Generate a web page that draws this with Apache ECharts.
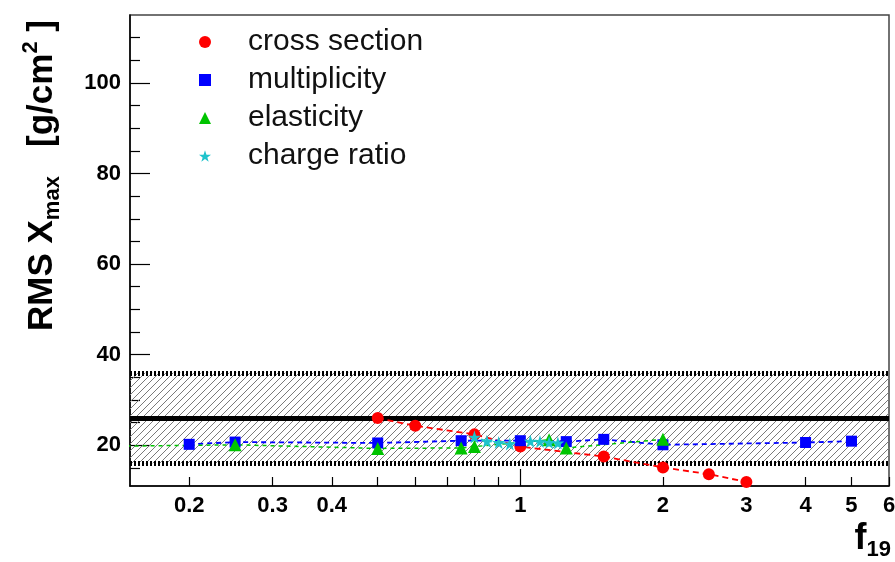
<!DOCTYPE html>
<html>
<head>
<meta charset="utf-8">
<script src="https://cdn.jsdelivr.net/npm/echarts@6/dist/echarts.min.js"></script>
<style>
html, body { margin: 0; padding: 0; background: #fff; }
#rms_chart { width: 895px; height: 562px; }
</style>
</head>
<body>
<div id="rms_chart"></div>
<script>
// f19 and RMS Xmax [g/cm^2]
var crossF = [0.5, 0.6, 0.8, 1, 1.5, 2, 2.5, 3]
var crossRms = [26, 24.3, 22.4, 19.7, 17.5, 15.1, 13.6, 11.9]
var multF = [0.2, 0.25, 0.5, 0.75, 1, 1.25, 1.5, 2, 4, 5]
var multRms = [20.2, 20.7, 20.5, 21.0, 21.0, 20.8, 21.3, 20.1, 20.6, 20.9]
var elastF = [0.1, 0.25, 0.5, 0.75, 0.8, 1.15, 1.25, 2]
var elastRms = [19.6, 20.1, 19.3, 19.4, 19.7, 21.2, 19.4, 21.3]
var chargeF = [0.8, 0.85, 0.9, 0.95, 1.05, 1.1, 1.15, 1.2]
var chargeRms = [21.8, 20.9, 20.6, 20.3, 20.9, 20.8, 20.6, 20.5]

// reference value and its band
var bandMid = 26
var bandLow = 16
var bandHigh = 36

// tick positions
var xLabelTicks = [0.2, 0.3, 0.4, 1, 2, 3, 4, 5, 6]
var xSmallTicks = [0.2, 0.3, 0.4, 0.5, 0.6, 0.7, 0.8, 0.9, 2, 3, 4, 5, 6]
var xBigTicks = [1]
var yMajorTicks = [20, 40, 60, 80, 100]
var yMinorTicks = [15, 25, 30, 35, 45, 50, 55, 65, 70, 75, 85, 90, 95, 105, 110]

var FONT = '"Liberation Sans", Arial, Helvetica, sans-serif'
var STAR = 'path://M50,0 L61.8,35.1 L98.1,35.1 L68.7,56.7 L79.4,90.5 L50,69.5 L20.6,90.5 L31.3,56.7 L1.9,35.1 L38.2,35.1 Z'

function pairs (xs, ys) {
  return xs.map(function (x, i) { return [x, ys[i]] })
}

// diagonal hatch for the band
function hatchPattern () {
  var c = document.createElement('canvas')
  c.width = 7
  c.height = 7
  var ctx = c.getContext('2d')
  ctx.strokeStyle = '#7a7a7a'
  ctx.lineWidth = 1
  ctx.beginPath()
  ctx.moveTo(0, 7); ctx.lineTo(7, 0)
  ctx.moveTo(-2, 2); ctx.lineTo(2, -2)
  ctx.moveTo(5, 9); ctx.lineTo(9, 5)
  ctx.stroke()
  return c
}

function dataSeries (name, xs, ys, color, symbol, size, dash, width) {
  return {
    name: name,
    type: 'line',
    data: pairs(xs, ys),
    symbol: symbol,
    symbolSize: size,
    showSymbol: true,
    itemStyle: { color: color },
    lineStyle: { color: color, type: dash, width: width },
    z: 3
  }
}

var chart = echarts.init(document.getElementById('rms_chart'))

var crossSeries = dataSeries('cross section', crossF, crossRms, '#ff0000', 'circle', 12, [6, 4], 1.8)
crossSeries.markArea = {
  silent: true,
  z: 1,
  itemStyle: { color: { image: hatchPattern(), repeat: 'repeat' } },
  data: [[{ yAxis: bandLow }, { yAxis: bandHigh }]]
}
crossSeries.markLine = {
  silent: true,
  z: 2,
  symbol: 'none',
  label: { show: false },
  data: [
    { yAxis: bandMid, lineStyle: { color: '#000', width: 5, type: 'solid' } },
    { yAxis: bandHigh, lineStyle: { color: '#000', width: 5, type: [2, 2] } },
    { yAxis: bandLow, lineStyle: { color: '#000', width: 5, type: [2, 2] } }
  ]
}

var option = {
  animation: false,
  // x axis title, bottom right under the labels
  title: {
    text: 'f{sub|19}',
    right: 4,
    top: 517,
    padding: 0,
    textStyle: {
      fontFamily: FONT,
      fontSize: 36,
      fontWeight: 'bold',
      color: '#000',
      lineHeight: 44,
      rich: {
        sub: { fontFamily: FONT, fontSize: 22, fontWeight: 'bold', color: '#000', lineHeight: 20, verticalAlign: 'bottom' }
      }
    }
  },
  grid: {
    left: 130,
    right: 6,
    top: 15,
    bottom: 76,
    show: true,
    borderColor: '#444',
    borderWidth: 1.5,
    outerBoundsMode: 'none'
  },
  legend: {
    orient: 'vertical',
    left: 199,
    top: 27,
    padding: 0,
    itemWidth: 12,
    itemHeight: 12,
    itemGap: 8,
    textStyle: {
      fontFamily: FONT,
      fontSize: 30,
      color: '#111',
      lineHeight: 30,
      padding: [0, 0, 0, 32]
    },
    data: [
      { name: 'cross section', icon: 'circle' },
      { name: 'multiplicity', icon: 'rect' },
      { name: 'elasticity', icon: 'triangle' },
      { name: 'charge ratio', icon: STAR }
    ]
  },
  xAxis: [
    {
      type: 'log',
      logBase: 10,
      min: 0.15,
      max: 6,
      position: 'bottom',
      axisLine: { lineStyle: { color: '#000', width: 1.5 } },
      axisTick: {
        inside: true,
        length: 9,
        customValues: xSmallTicks,
        lineStyle: { color: '#000', width: 1.2 }
      },
      axisLabel: {
        customValues: xLabelTicks,
        margin: 9,
        fontFamily: FONT,
        fontSize: 22,
        fontWeight: 'bold',
        color: '#000'
      },
      splitLine: { show: false }
    },
    {
      type: 'log',
      logBase: 10,
      min: 0.15,
      max: 6,
      position: 'bottom',
      axisLine: { show: false },
      axisTick: {
        inside: true,
        length: 17,
        customValues: xBigTicks,
        lineStyle: { color: '#000', width: 1.2 }
      },
      axisLabel: { show: false },
      splitLine: { show: false }
    }
  ],
  yAxis: [
    {
      type: 'value',
      min: 11,
      max: 115,
      position: 'left',
      axisLine: { lineStyle: { color: '#000', width: 1.5 } },
      axisTick: {
        inside: true,
        length: 20,
        customValues: yMajorTicks,
        lineStyle: { color: '#000', width: 1.2 }
      },
      axisLabel: {
        customValues: yMajorTicks,
        margin: 9,
        fontFamily: FONT,
        fontSize: 22,
        fontWeight: 'bold',
        color: '#000'
      },
      splitLine: { show: false },
      name: 'RMS X{sub|max}   [g/cm{sup|2} ]',
      nameLocation: 'middle',
      nameGap: 66,
      nameTextStyle: {
        fontFamily: FONT,
        fontSize: 35,
        fontWeight: 'bold',
        color: '#000',
        lineHeight: 44,
        padding: [0, 0, 0, 150],
        rich: {
          sub: { fontFamily: FONT, fontSize: 22, fontWeight: 'bold', lineHeight: 18, verticalAlign: 'bottom' },
          sup: { fontFamily: FONT, fontSize: 22, fontWeight: 'bold', lineHeight: 20, verticalAlign: 'top' }
        }
      }
    },
    {
      type: 'value',
      min: 11,
      max: 115,
      position: 'left',
      axisLine: { show: false },
      axisTick: {
        inside: true,
        length: 10,
        customValues: yMinorTicks,
        lineStyle: { color: '#000', width: 1.2 }
      },
      axisLabel: { show: false },
      splitLine: { show: false }
    }
  ],
  series: [
    crossSeries,
    dataSeries('multiplicity', multF, multRms, '#0000ff', 'rect', 11, [5, 4], 1.8),
    dataSeries('elasticity', elastF, elastRms, '#00c400', 'triangle', 13, [4, 4], 1.5),
    dataSeries('charge ratio', chargeF, chargeRms, '#1ec3cc', STAR, 13, [4, 3], 1.5)
  ]
}

chart.setOption(option)
window.onresize = chart.resize
</script>
</body>
</html>
